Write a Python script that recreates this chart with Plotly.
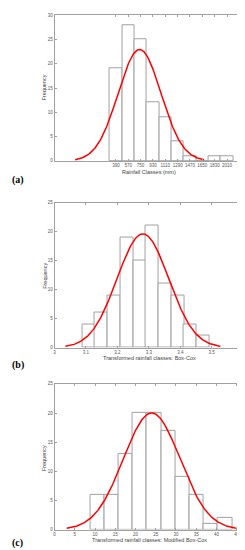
import numpy as np
import plotly.graph_objects as go

# Panel (a)
a_classes = [390, 570, 750, 930, 1110, 1290, 1470, 1650, 1830, 2010]
a_freq = [19, 28, 25, 12, 9, 4, 1, 0, 1, 1]
a_width = 180
a_mean, a_sd = 735, 313

# Panel (b)
b_centers = [3.109, 3.149, 3.190, 3.230, 3.271, 3.311, 3.351, 3.392, 3.432, 3.473]
b_freq = [4, 6, 9, 19, 15, 21, 11, 9, 4, 2]
b_width = 0.0404
b_mean, b_sd = 3.281, 0.0822
b_ticks = [3, 3.1, 3.2, 3.3, 3.4, 3.5, 3.6]

# Panel (c)
c_centers = [10.56, 14.07, 17.58, 21.09, 24.60, 28.11, 31.62, 35.13, 38.64, 42.15]
c_freq = [6, 6, 13, 20, 20, 17, 9, 6, 1, 2]
c_width = 3.51
c_mean, c_sd = 24.0, 7.0
c_ticks = [0, 5, 10, 15, 20, 25, 30, 35, 40, 45]

W, H = 245, 550
GREY = "#a0a0a0"
TICKF = dict(family="Liberation Sans", size=4.5, color="#555")


def fit_curve(mean, sd, n, width):
    x = np.linspace(mean - 3 * sd, mean + 3 * sd, 200)
    y = n * width / (sd * np.sqrt(2 * np.pi)) * np.exp(-0.5 * ((x - mean) / sd) ** 2)
    return x, y


def ydom(top, bottom):
    return [1 - bottom / H, 1 - top / H]


fig = go.Figure()
xdom = [46.5 / W, 239 / W]
panels = [
    ("", a_classes, a_freq, a_width, a_mean, a_sd, ydom(5.3, 152.3)),
    ("2", b_centers, b_freq, b_width, b_mean, b_sd, ydom(194.3, 340.7)),
    ("3", c_centers, c_freq, c_width, c_mean, c_sd, ydom(377.3, 524.3)),
]
for suf, xs, ys, w, m, s, yd in panels:
    fig.add_trace(go.Bar(x=xs, y=ys, width=w, marker=dict(color="white", line=dict(color=GREY, width=1)),
                         xaxis="x" + suf, yaxis="y" + suf, showlegend=False))
    cx, cy = fit_curve(m, s, sum(ys), w)
    fig.add_trace(go.Scatter(x=cx, y=cy, mode="lines", line=dict(color="#ff0000", width=1.5),
                             xaxis="x" + suf, yaxis="y" + suf, showlegend=False))

axcommon = dict(showline=True, linecolor=GREY, linewidth=1, mirror="ticks", ticks="inside",
                ticklen=2, tickcolor=GREY, tickfont=TICKF, showgrid=False, zeroline=False,
                fixedrange=True, tickangle=0, ticklabeloverflow="allow")

fig.update_layout(
    width=W, height=H, margin=dict(l=0, r=0, t=0, b=0),
    paper_bgcolor="white", plot_bgcolor="white", bargap=0,
    xaxis=dict(domain=xdom, range=[-505, 2245], tickvals=a_classes, ticktext=[str(v) for v in a_classes],
               anchor="y", **axcommon),
    yaxis=dict(domain=ydom(5.3, 152.3), range=[0, 30], tickvals=[0, 5, 10, 15, 20, 25, 30], anchor="x", **axcommon),
    xaxis2=dict(domain=xdom, range=[3, 3.6], tickvals=b_ticks, ticktext=[str(v) for v in b_ticks],
                anchor="y2", **axcommon),
    yaxis2=dict(domain=ydom(194.3, 340.7), range=[0, 25], tickvals=[0, 5, 10, 15, 20, 25], anchor="x2", **axcommon),
    xaxis3=dict(domain=xdom, range=[0, 46.6], tickvals=c_ticks, anchor="y3", **axcommon),
    yaxis3=dict(domain=ydom(377.3, 524.3), range=[0, 25], tickvals=[0, 5, 10, 15, 20, 25], anchor="x3", **axcommon),
)

LBL = dict(family="Liberation Sans", size=5.5, color="#444")
PAN = dict(family="Liberation Serif", size=10, color="black")
ann = [
    ("Rainfall Classes (mm)", 143, 163, 0),
    ("Transformed rainfall classes: Box-Cox", 143, 351, 0),
    ("Transformed rainfall classes: Modified Box-Cox", 143, 535, 0),
    ("Frequency", 36, 78, -90),
    ("Frequency", 36, 268, -90),
    ("Frequency", 36, 452, -90),
]
for t, x, y, ang in ann:
    fig.add_annotation(text=t, x=x / W, y=1 - y / H, xref="paper", yref="paper", showarrow=False,
                       textangle=ang, font=LBL, xanchor="center", yanchor="middle")
for t, y in [("(a)", 172), ("(b)", 358), ("(c)", 538)]:
    fig.add_annotation(text="<b>" + t + "</b>", x=1 / W, y=1 - y / H, xref="paper", yref="paper",
                       showarrow=False, font=PAN, xanchor="left", yanchor="middle")

fig.write_html("out.html", config={"displayModeBar": False})
